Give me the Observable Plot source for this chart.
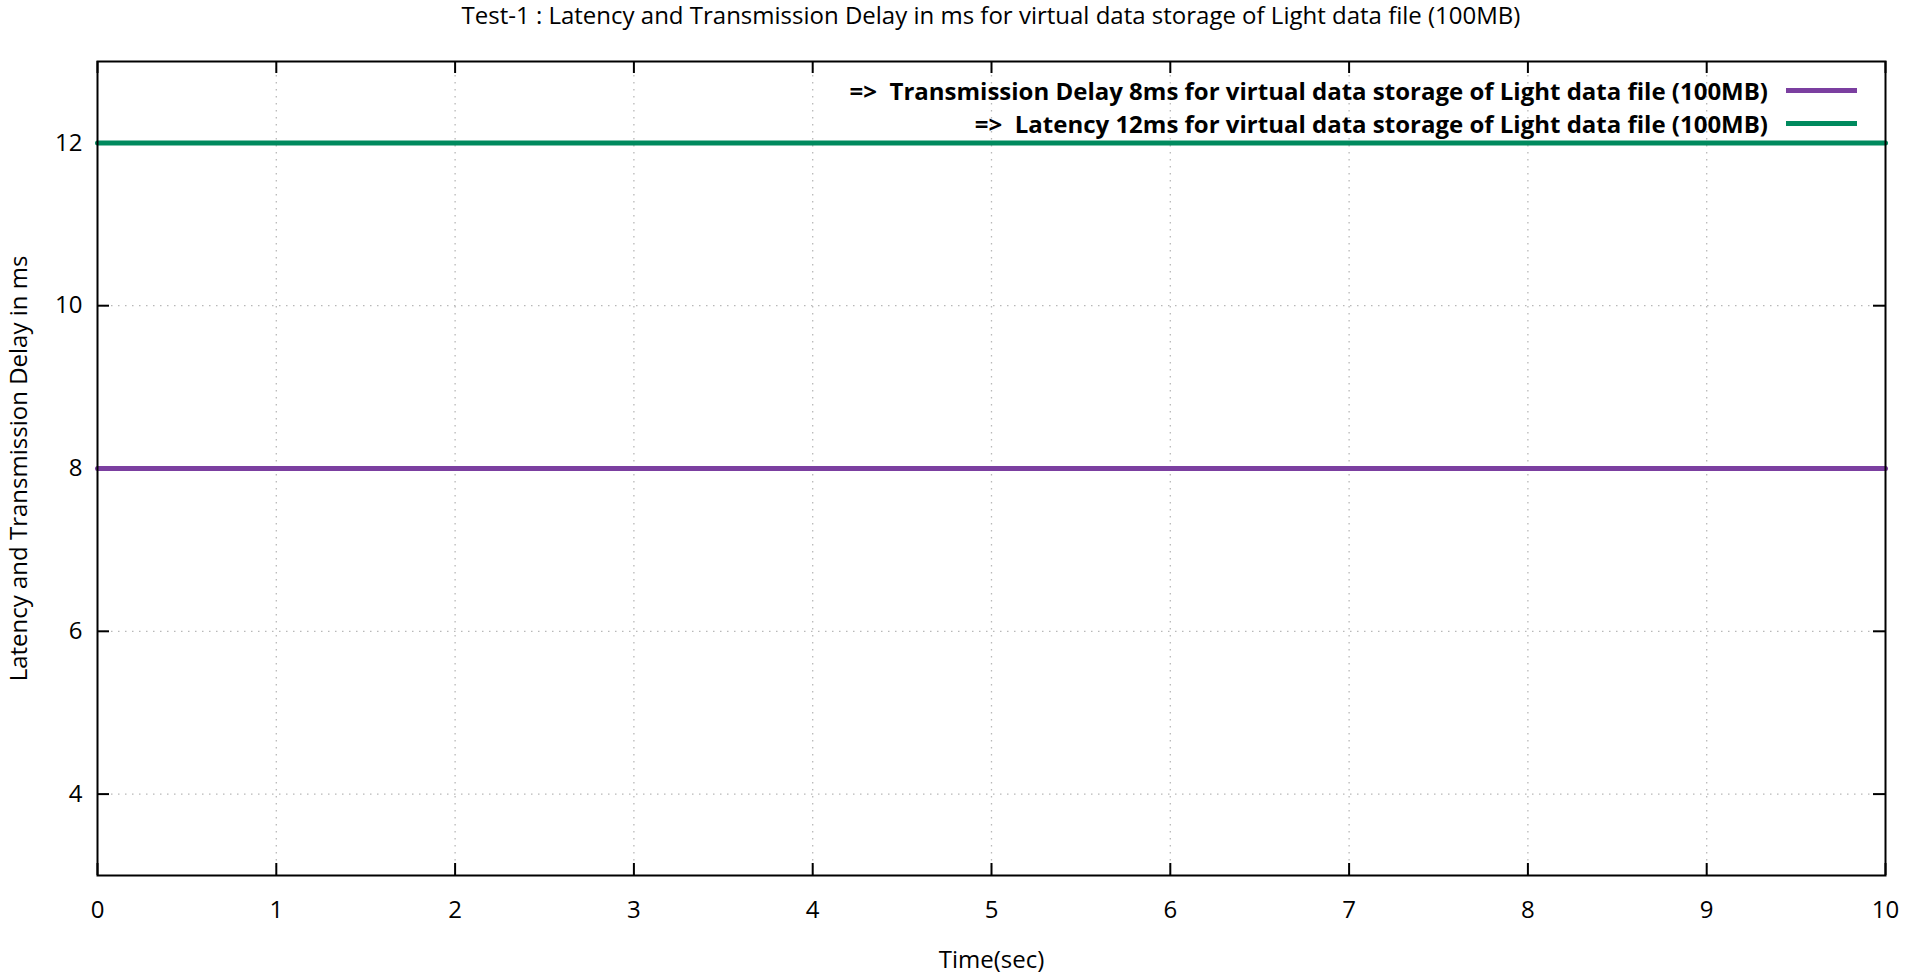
<!DOCTYPE html>
<html>
<head>
<meta charset="utf-8">
<script src="https://cdn.jsdelivr.net/npm/d3@7"></script>
<script src="https://cdn.jsdelivr.net/npm/@observablehq/plot@0.6"></script>
<style>
  html, body { margin: 0; padding: 0; background: #fff; }
  #wrap { position: relative; width: 1905px; height: 975px; font-family: "Open Sans", sans-serif; }
  #title { position: absolute; left: 97px; width: 1788px; top: 0; height: 36px; text-align: center;
           font-size: 24px; line-height: 30px; color: #000; }
  #chart { position: absolute; left: 0; top: 36px; }
  .row { position: absolute; white-space: pre; display: flex; align-items: center; color: #000; }
  .row .lbl { text-align: right; }
  .row .sw { display: inline-block; width: 71px; height: 5px; margin-left: 18px; }
</style>
</head>
<body>
<div id="wrap">
  <div id="title"></div>
  <div id="chart"></div>
</div>
<script>
const titleText = "Test-1 : Latency and Transmission Delay in ms for virtual data storage of Light data file (100MB)";
const xLabel = "Time(sec)";
const yLabel = "Latency and Transmission Delay in ms";

const time = [0, 1, 2, 3, 4, 5, 6, 7, 8, 9, 10];
const delay = [8, 8, 8, 8, 8, 8, 8, 8, 8, 8, 8];
const latency = [12, 12, 12, 12, 12, 12, 12, 12, 12, 12, 12];
const seriesNames = [
  "=>  Transmission Delay 8ms for virtual data storage of Light data file (100MB)",
  "=>  Latency 12ms for virtual data storage of Light data file (100MB)"
];
const seriesColors = ["#7b3fa0", "#008a5e"];
const xTicks = [0, 1, 2, 3, 4, 5, 6, 7, 8, 9, 10];
const yTicks = [4, 6, 8, 10, 12];
const xGrid = [1, 2, 3, 4, 5, 6, 7, 8, 9];
const yGrid = [4, 6, 8, 10, 12];

const rows = [];
time.forEach((t, i) => rows.push({t, v: delay[i], s: seriesNames[0]}));
time.forEach((t, i) => rows.push({t, v: latency[i], s: seriesNames[1]}));

document.getElementById("title").textContent = titleText;

const W = 1905, H = 939;
const mL = 97, mR = 20, mT = 25, mB = 100;
const fw = W - mL - mR, fh = H - mT - mB;
const tick = 12;
const fmt = d3.format("d");

const chart = Plot.plot({
  width: W,
  height: H,
  marginLeft: mL,
  marginRight: mR,
  marginTop: mT,
  marginBottom: mB,
  style: { fontFamily: "Open Sans, sans-serif", fontSize: "24px", color: "#000", background: "#fff" },
  x: { domain: [0, 10] },
  y: { domain: [3, 13] },
  color: { domain: seriesNames, range: seriesColors },
  marks: [
    Plot.ruleX(xGrid, { stroke: "#b8b8b8", strokeWidth: 1.3, strokeDasharray: "1.5,5.5" }),
    Plot.ruleY(yGrid, { stroke: "#b8b8b8", strokeWidth: 1.3, strokeDasharray: "1.5,5.5" }),
    Plot.axisX(xTicks, { anchor: "bottom", tickSize: 0, tickPadding: 25, fontSize: 24, tickFormat: fmt,
      label: xLabel, labelAnchor: "center", labelOffset: 92, labelArrow: "none" }),
    Plot.axisY(yTicks, { anchor: "left", tickSize: 0, tickPadding: 15, fontSize: 24, tickFormat: fmt,
      label: yLabel, labelAnchor: "center", labelOffset: 88, labelArrow: "none" }),
    // inward tick marks on all four sides (gnuplot style mirrored ticks)
    Plot.tickX(xTicks, { x: d => d, stroke: "#000", strokeWidth: 2, insetTop: fh - tick }),
    Plot.tickX(xTicks, { x: d => d, stroke: "#000", strokeWidth: 2, insetBottom: fh - tick }),
    Plot.tickY(yTicks, { y: d => d, stroke: "#000", strokeWidth: 2, insetRight: fw - tick }),
    Plot.tickY(yTicks, { y: d => d, stroke: "#000", strokeWidth: 2, insetLeft: fw - tick }),
    Plot.line(rows, { x: "t", y: "v", z: "s", stroke: "s", strokeWidth: 5 }),
    Plot.frame({ stroke: "#000", strokeWidth: 2 })
  ]
});
document.getElementById("chart").appendChild(chart);

// legend (HTML, top-right inside the plot frame)
const legendRight = 1905 - 1857;
const legendRowsY = [90, 123];
seriesNames.forEach((name, i) => {
  const r = document.createElement("div");
  r.className = "row";
  r.style.right = legendRight + "px";
  r.style.top = (legendRowsY[i] - 16) + "px";
  r.style.height = "32px";
  r.style.fontWeight = "bold";
  r.style.fontSize = "24px";
  const l = document.createElement("span");
  l.className = "lbl";
  l.textContent = name;
  const s = document.createElement("span");
  s.className = "sw";
  s.style.background = seriesColors[i];
  r.appendChild(l); r.appendChild(s);
  document.getElementById("wrap").appendChild(r);
});
</script>
</body>
</html>
